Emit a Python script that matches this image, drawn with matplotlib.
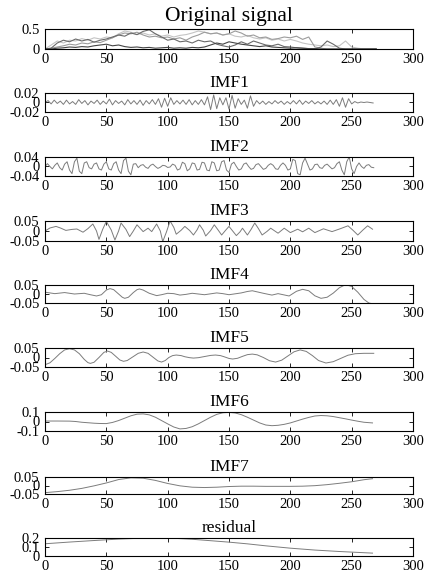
import matplotlib
matplotlib.use("Agg")
import matplotlib.pyplot as plt

plt.rcParams['font.family'] = ['Liberation Serif', 'DejaVu Serif']

# ---------------- data ----------------
orig_t = [0, 5, 10, 15, 20, 25, 30, 35, 40, 45, 50, 55, 60, 65, 70, 75, 80, 85, 90, 95,
          100, 105, 110, 115, 120, 125, 130, 135, 140, 145, 150, 155, 160, 165, 170, 175,
          180, 185, 190, 195, 200, 205, 210, 215, 220, 225, 230, 235, 240, 245, 250, 255,
          260, 265, 270]
orig_a = [0.00, 0.02, 0.15, 0.22, 0.18, 0.25, 0.20, 0.24, 0.17, 0.22, 0.25, 0.30, 0.35, 0.32,
          0.40, 0.36, 0.44, 0.48, 0.38, 0.30, 0.22, 0.25, 0.18, 0.20, 0.15, 0.22, 0.18, 0.20,
          0.12, 0.08, 0.05, 0.10, 0.18, 0.12, 0.20, 0.15, 0.10, 0.08, 0.12, 0.06, 0.05, 0.03,
          0.02, 0.01, 0.00, 0.05, 0.20, 0.12, 0.02, 0.00, 0.00, 0.00, 0.00, 0.00, 0.00]
orig_b = [0.00, 0.02, 0.05, 0.08, 0.12, 0.10, 0.15, 0.13, 0.18, 0.16, 0.22, 0.28, 0.35, 0.40,
          0.38, 0.42, 0.35, 0.30, 0.32, 0.28, 0.30, 0.25, 0.28, 0.22, 0.30, 0.35, 0.42, 0.38,
          0.40, 0.35, 0.38, 0.45, 0.40, 0.32, 0.35, 0.28, 0.30, 0.24, 0.26, 0.30, 0.28, 0.32,
          0.24, 0.30, 0.05, 0.02, 0.00, 0.00, 0.00, 0.00, 0.00, 0.00, 0.00, 0.00, 0.00]
orig_c = [0.00, 0.10, 0.20, 0.15, 0.22, 0.20, 0.26, 0.22, 0.28, 0.25, 0.30, 0.28, 0.38, 0.45,
          0.42, 0.36, 0.40, 0.35, 0.38, 0.32, 0.35, 0.30, 0.34, 0.36, 0.40, 0.45, 0.42, 0.38,
          0.40, 0.35, 0.38, 0.32, 0.30, 0.34, 0.28, 0.25, 0.28, 0.22, 0.25, 0.20, 0.24, 0.20,
          0.15, 0.12, 0.10, 0.08, 0.10, 0.06, 0.08, 0.20, 0.05, 0.02, 0.00, 0.00, 0.00]
orig_d = [0.00, 0.00, 0.02, 0.03, 0.05, 0.04, 0.06, 0.05, 0.08, 0.10, 0.12, 0.08, 0.10, 0.06,
          0.04, 0.05, 0.03, 0.04, 0.02, 0.03, 0.04, 0.02, 0.03, 0.02, 0.04, 0.03, 0.05, 0.10,
          0.15, 0.12, 0.18, 0.15, 0.12, 0.10, 0.08, 0.06, 0.08, 0.05, 0.04, 0.03, 0.02, 0.03,
          0.02, 0.01, 0.01, 0.00, 0.00, 0.00, 0.00, 0.00, 0.00, 0.00, 0.00, 0.00, 0.00]

imf1_t = [i * 2.5 for i in range(108)]
imf1 = [0.000, 0.004, -0.003, 0.005, -0.002, 0.003, -0.004, 0.005, -0.003, 0.002,
        -0.004, 0.006, -0.002, 0.004, -0.005, 0.003, -0.002, 0.005, -0.004, 0.003,
        -0.003, 0.007, -0.005, 0.004, -0.002, 0.003, -0.005, 0.006, -0.003, 0.004,
        -0.004, 0.005, -0.006, 0.004, -0.003, 0.006, -0.004, 0.008, -0.010, 0.009,
        -0.008, 0.010, -0.004, 0.004, -0.003, 0.005, -0.004, 0.006, -0.005, 0.004,
        -0.004, 0.006, -0.005, 0.012, -0.015, 0.016, -0.013, 0.010, -0.005, 0.010,
        -0.014, 0.015, -0.012, 0.008, -0.004, 0.005, -0.012, 0.014, -0.008, 0.004,
        -0.003, 0.003, -0.004, 0.002, -0.003, 0.004, -0.002, 0.003, -0.004, 0.002,
        -0.003, 0.004, -0.003, 0.005, -0.004, 0.003, -0.002, 0.004, -0.003, 0.002,
        -0.003, 0.003, -0.004, 0.005, -0.004, 0.006, -0.008, 0.010, -0.010, 0.008,
        -0.003, 0.002, -0.001, 0.001, 0.000, 0.001, 0.000, -0.001]

imf2_t = list(range(0, 270, 2))
imf2 = [0.000, 0.012, 0.000, -0.010, 0.005, 0.015, -0.005, -0.015, 0.010, 0.020,
        -0.015, -0.030, 0.020, 0.035, -0.020, -0.030, 0.015, 0.020, -0.005, -0.010,
        0.010, 0.015, -0.010, -0.015, 0.010, 0.020, -0.010, -0.015, 0.012, 0.020,
        -0.015, -0.030, 0.025, 0.035, -0.020, -0.035, 0.010, 0.012, -0.005, 0.005,
        0.008, -0.003, -0.008, 0.005, 0.010, 0.000, -0.008, -0.003, 0.005, 0.003,
        -0.004, -0.002, 0.010, 0.005, -0.015, -0.010, 0.018, 0.012, -0.018, -0.010,
        0.015, 0.012, -0.015, -0.012, 0.018, 0.015, -0.015, -0.018, 0.020, 0.015,
        -0.018, -0.015, 0.020, 0.025, -0.015, -0.025, 0.010, 0.018, 0.000, -0.015,
        -0.010, 0.010, 0.015, 0.000, -0.012, -0.008, 0.008, 0.012, 0.000, -0.012,
        -0.008, 0.005, 0.012, 0.005, -0.010, -0.012, 0.005, 0.015, 0.005, -0.015,
        -0.010, 0.030, 0.025, -0.030, -0.035, 0.015, 0.035, 0.010, -0.015, -0.010,
        0.008, 0.010, -0.005, -0.008, 0.005, 0.010, 0.000, -0.010, -0.005, 0.012,
        0.020, -0.015, -0.035, 0.020, 0.040, -0.010, -0.030, 0.000, 0.015, 0.000,
        -0.008, 0.005, 0.008, -0.003, -0.005]

imf3_t = [0, 4, 9, 13, 17, 22, 26, 31, 35, 39, 42, 44, 47, 50, 54, 57, 60, 62, 66, 69,
          72, 75, 80, 84, 87, 91, 94, 96, 99, 102, 105, 107, 111, 114, 118, 121, 124, 126,
          129, 131, 135, 138, 141, 144, 147, 150, 153, 156, 159, 161, 165, 168, 171, 174,
          177, 181, 184, 190, 195, 200, 206, 210, 215, 220, 227, 234, 241, 247, 251, 255,
          259, 263, 267]
imf3 = [0.000, 0.015, 0.023, 0.014, 0.003, 0.008, 0.010, -0.006, 0.012, 0.035, 0.000,
        -0.042, 0.008, 0.048, 0.005, -0.045, 0.000, 0.040, 0.008, -0.028, 0.000, 0.031,
        -0.003, 0.014, -0.003, 0.035, 0.000, -0.053, -0.005, 0.050, 0.018, -0.016, 0.004,
        0.023, 0.002, -0.020, 0.006, 0.031, 0.004, -0.025, 0.002, 0.031, 0.006, -0.020,
        0.002, 0.023, 0.000, -0.023, -0.004, 0.014, -0.020, 0.008, 0.040, 0.012, -0.020,
        -0.002, 0.014, -0.011, 0.014, -0.008, 0.009, -0.004, 0.014, -0.008, 0.011, -0.003,
        0.012, 0.026, 0.004, -0.020, 0.004, 0.026, 0.009]

imf4_t = [0, 4, 8, 12, 16, 20, 24, 28, 32, 37, 42, 46, 50, 53, 56, 60, 63, 65, 68, 72,
          75, 77, 80, 85, 91, 95, 100, 105, 110, 115, 120, 125, 130, 135, 140, 145, 150,
          155, 160, 165, 169, 178, 185, 190, 199, 205, 210, 215, 220, 225, 230, 235, 240,
          245, 250, 255, 260, 264, 268]
imf4 = [0.010, 0.006, 0.002, 0.005, 0.008, 0.004, 0.000, 0.002, 0.004, -0.004, -0.011,
        -0.004, 0.022, 0.030, 0.024, 0.000, -0.018, -0.024, -0.018, 0.008, 0.024, 0.028,
        0.022, 0.004, -0.009, -0.004, 0.004, 0.002, -0.006, -0.002, 0.004, 0.000, -0.004,
        0.001, 0.006, 0.002, -0.004, 0.001, 0.006, 0.014, 0.018, 0.004, -0.006, 0.002,
        -0.011, 0.015, 0.026, 0.018, -0.010, -0.024, -0.018, 0.005, 0.035, 0.052, 0.042,
        0.010, -0.030, -0.050, -0.056]

imf5_t = [0, 4, 8, 12, 16, 20, 24, 28, 32, 35, 37, 40, 44, 48, 51, 54, 57, 61, 64, 67,
          72, 76, 80, 84, 88, 92, 95, 98, 101, 104, 107, 111, 114, 118, 121, 125, 130, 135,
          139, 143, 146, 150, 153, 157, 161, 165, 169, 173, 178, 183, 188, 193, 198, 203,
          208, 213, 218, 223, 229, 235, 241, 247, 253, 260, 268]
imf5 = [-0.038, -0.028, -0.005, 0.020, 0.040, 0.046, 0.040, 0.020, -0.010, -0.027, -0.031,
        -0.025, 0.000, 0.027, 0.034, 0.027, 0.010, -0.013, -0.020, -0.016, 0.005, 0.022,
        0.029, 0.022, 0.002, -0.018, -0.024, -0.016, 0.000, 0.010, 0.013, 0.010, 0.004,
        -0.001, -0.003, -0.001, 0.005, 0.011, 0.013, 0.010, 0.004, -0.005, -0.008, -0.004,
        0.006, 0.015, 0.018, 0.014, 0.000, -0.017, -0.024, -0.014, 0.008, 0.030, 0.040,
        0.032, 0.010, -0.016, -0.029, -0.022, -0.005, 0.012, 0.020, 0.022, 0.022]

imf6_t = [0, 10, 20, 25, 30, 35, 40, 45, 50, 55, 60, 65, 70, 75, 80, 85, 90, 95, 100, 105,
          110, 115, 120, 125, 130, 135, 140, 145, 150, 155, 160, 165, 170, 175, 180, 185,
          190, 195, 200, 205, 210, 215, 220, 225, 230, 235, 240, 245, 250, 255, 260, 267]
imf6 = [0.005, 0.005, 0.004, 0.000, -0.008, -0.013, -0.018, -0.021, -0.022, -0.010, 0.010,
        0.035, 0.060, 0.077, 0.080, 0.070, 0.045, 0.010, -0.025, -0.058, -0.078, -0.073,
        -0.055, -0.025, 0.010, 0.045, 0.075, 0.092, 0.096, 0.090, 0.072, 0.045, 0.015,
        -0.015, -0.037, -0.044, -0.040, -0.030, -0.015, 0.005, 0.025, 0.043, 0.058, 0.063,
        0.060, 0.052, 0.040, 0.028, 0.015, 0.003, -0.008, -0.015]

imf7_t = [0, 10, 20, 30, 40, 50, 60, 70, 80, 90, 100, 110, 120, 130, 140, 150, 160, 170,
          180, 190, 200, 210, 220, 230, 240, 250, 260, 267]
imf7 = [-0.042, -0.036, -0.028, -0.017, -0.002, 0.015, 0.035, 0.045, 0.043, 0.030, 0.012,
        -0.002, -0.010, -0.012, -0.010, -0.006, -0.004, -0.004, -0.005, -0.005, -0.005,
        -0.004, -0.001, 0.005, 0.013, 0.022, 0.034, 0.040]

resid_t = [0, 20, 40, 60, 75, 90, 105, 120, 135, 150, 165, 180, 200, 220, 240, 255, 267]
resid = [0.136, 0.155, 0.172, 0.188, 0.196, 0.200, 0.197, 0.186, 0.170, 0.154, 0.135,
         0.113, 0.087, 0.066, 0.050, 0.040, 0.032]

panels = [
    ("Original signal", None, (0, 0.5), [0, 0.5], ["0", "0.5"]),
    ("IMF1", (imf1_t, imf1), (-0.02, 0.02), [-0.02, 0, 0.02], ["-0.02", "0", "0.02"]),
    ("IMF2", (imf2_t, imf2), (-0.04, 0.04), [-0.04, 0, 0.04], ["-0.04", "0", "0.04"]),
    ("IMF3", (imf3_t, imf3), (-0.05, 0.05), [-0.05, 0, 0.05], ["-0.05", "0", "0.05"]),
    ("IMF4", (imf4_t, imf4), (-0.05, 0.05), [-0.05, 0, 0.05], ["-0.05", "0", "0.05"]),
    ("IMF5", (imf5_t, imf5), (-0.05, 0.05), [-0.05, 0, 0.05], ["-0.05", "0", "0.05"]),
    ("IMF6", (imf6_t, imf6), (-0.1, 0.1), [-0.1, 0, 0.1], ["-0.1", "0", "0.1"]),
    ("IMF7", (imf7_t, imf7), (-0.05, 0.05), [-0.05, 0, 0.05], ["-0.05", "0", "0.05"]),
    ("residual", (resid_t, resid), (0, 0.2), [0, 0.1, 0.2], ["0", "0.1", "0.2"]),
]

x_ticks = [0, 50, 100, 150, 200, 250, 300]

# ---------------- figure ----------------
W, H = 424, 580
fig = plt.figure(figsize=(W / 100, H / 100), dpi=100)
boxes = [(29, 49), (93, 112), (157, 176), (221, 241), (285, 303),
         (348, 367), (412, 431), (477, 494), (538, 556)]
left, right = 45, 413

for i, (title, series, ylim, yt, ytl) in enumerate(panels):
    top, bot = boxes[i]
    ax = fig.add_axes([left / W, 1 - bot / H, (right - left) / W, (bot - top) / H])
    if series is None:
        ax.plot(orig_t, orig_c, color='#c4c4c4', lw=0.8)
        ax.plot(orig_t, orig_b, color='#9c9c9c', lw=0.8)
        ax.plot(orig_t, orig_a, color='#6a6a6a', lw=0.8)
        ax.plot(orig_t, orig_d, color='#454545', lw=0.8)
        ax.set_title(title, fontsize=15.5, pad=5.5)
    else:
        ax.plot(series[0], series[1], color='#7c7c7c', lw=0.7)
        ax.set_title(title, fontsize=12.5, pad=4.5)
    ax.set_xlim(0, 300)
    ax.set_ylim(*ylim)
    ax.set_xticks(x_ticks)
    ax.set_xticklabels([str(v) for v in x_ticks])
    ax.set_yticks(yt)
    ax.set_yticklabels(ytl)
    ax.tick_params(direction='in', top=True, right=True, length=3, width=0.6,
                   labelsize=10.5, pad=3)
    ax.tick_params(axis='y', pad=4)
    for s in ax.spines.values():
        s.set_linewidth(0.8)
        s.set_color('black')

fig.savefig("out.png", dpi=100)
